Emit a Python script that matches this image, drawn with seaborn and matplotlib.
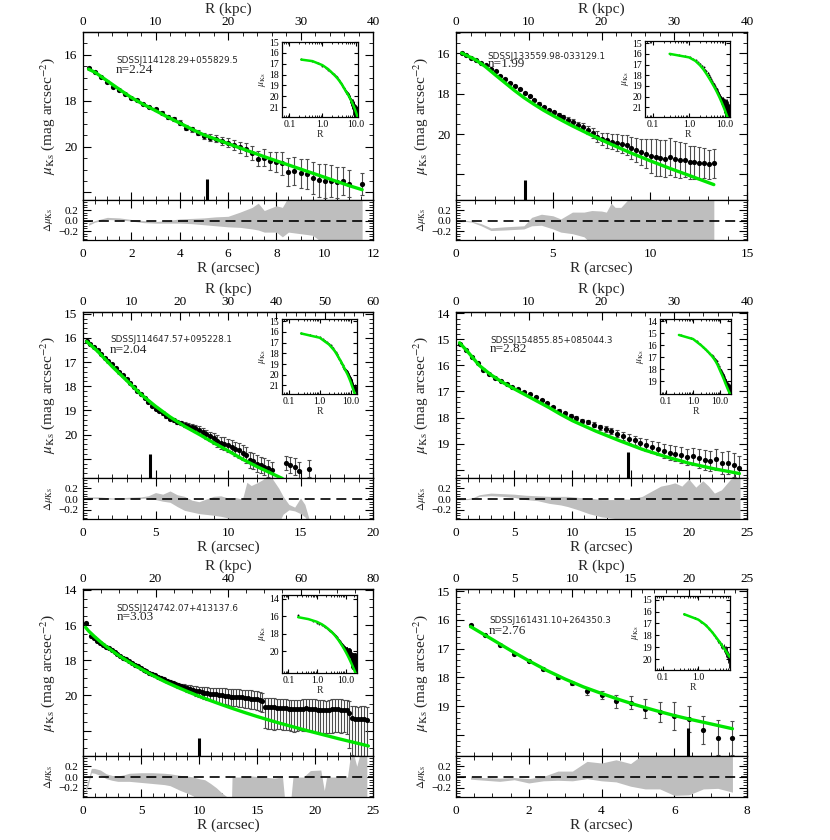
import matplotlib
matplotlib.use("Agg")
import matplotlib.pyplot as plt
from matplotlib.ticker import (AutoMinorLocator, FixedLocator, FixedFormatter,
                               MultipleLocator, LogLocator, NullFormatter)
import seaborn as sns

# ---------------- data ----------------
# galaxy names and Sersic indices
names = ["SDSSJ114128.29+055829.5", "SDSSJ133559.98-033129.1",
         "SDSSJ114647.57+095228.1", "SDSSJ154855.85+085044.3",
         "SDSSJ124742.07+413137.6", "SDSSJ161431.10+264350.3"]
sersic_n = [2.24, 1.99, 2.04, 2.82, 3.03, 2.76]

# axis ranges (arcsec on the bottom, kpc on top, magnitudes on y)
arc_max = [12, 15, 20, 25, 25, 8]
kpc_max = [40, 40, 60, 40, 80, 25]
arc_step = [2, 5, 5, 5, 5, 2]
kpc_step = [10, 10, 10, 10, 20, 5]
mu_lim = [(22.33, 15.0), (23.26, 14.96), (21.8, 14.93), (20.32, 13.95), (23.45, 13.95), (20.74, 14.92)]
mu_ticks = [[16, 18, 20, 22], [16, 18, 20, 22], [15, 16, 17, 18, 19, 20, 21],
            [14, 15, 16, 17, 18, 19, 20], [14, 16, 18, 20, 22], [15, 16, 17, 18, 19, 20]]
inset_lim = [(21.9, 15.0), (21.9, 14.8), (21.8, 14.8), (20.05, 13.8), (22.5, 13.6), (20.9, 14.7)]
inset_ticks = [[15, 16, 17, 18, 19, 20, 21], [15, 16, 17, 18, 19, 20, 21], [15, 16, 17, 18, 19, 20, 21],
               [14, 15, 16, 17, 18, 19], [14, 16, 18, 20], [15, 16, 17, 18, 19, 20]]

# the short thick vertical marker in each panel
bar_r = [5.13, 3.55, 4.64, 14.79, 9.97, 6.39]
bar_top = [21.4, 22.28, 20.8, 19.31, 22.45, 19.77]

# panel 1
r1 = [0.23, 0.5, 0.75, 1.0, 1.25, 1.5, 1.75, 2.0, 2.25, 2.5, 2.75, 3.0, 3.25, 3.5, 3.75, 4.0,
      4.25, 4.5, 4.75, 5.0, 5.25, 5.5, 5.75, 6.0, 6.25, 6.5, 6.75, 7.0, 7.25, 7.5, 7.75, 8.0,
      8.25, 8.5, 8.75, 9.0, 9.25, 9.5, 9.75, 10.0, 10.25, 10.5, 10.75, 11.0, 11.55]
mu1 = [16.55, 16.73, 16.95, 17.18, 17.38, 17.53, 17.69, 17.88, 17.98, 18.14, 18.26, 18.37, 18.52,
       18.71, 18.81, 18.95, 19.17, 19.25, 19.39, 19.54, 19.61, 19.65, 19.76, 19.83, 19.93, 20.02,
       20.12, 20.29, 20.53, 20.48, 20.63, 20.67, 20.73, 21.11, 21.07, 21.17, 21.21, 21.36, 21.46,
       21.50, 21.52, 21.55, 21.50, 21.62, 21.65]
err1 = [0.02, 0.02, 0.02, 0.02, 0.03, 0.03, 0.03, 0.04, 0.04, 0.05, 0.05, 0.06, 0.06, 0.07, 0.08,
        0.09, 0.1, 0.11, 0.12, 0.14, 0.15, 0.17, 0.19, 0.2, 0.22, 0.24, 0.27, 0.3, 0.33, 0.36,
        0.4, 0.45, 0.5, 0.62, 0.6, 0.62, 0.65, 0.7, 0.72, 0.75, 0.7, 0.68, 0.62, 0.6, 0.48]
mod_r1 = [0.23, 0.5, 1.0, 1.5, 2.0, 2.5, 3.0, 3.5, 4.0, 4.5, 5.0, 5.5, 6.0, 6.5, 7.0, 7.5, 8.0,
          8.5, 9.0, 9.5, 10.0, 10.5, 11.0, 11.55]
mod_mu1 = [16.62, 16.76, 17.13, 17.5, 17.86, 18.16, 18.43, 18.71, 18.97, 19.24, 19.49, 19.68,
           19.87, 20.06, 20.25, 20.44, 20.62, 20.8, 20.98, 21.16, 21.34, 21.52, 21.7, 21.88]
res_r1 = [0.23, 0.5, 1.0, 1.5, 2.0, 2.5, 3.0, 3.5, 4.0, 4.5, 5.0, 5.5, 6.0, 6.5, 7.0, 7.25, 7.5,
          8.0, 8.25, 8.5, 9.0, 9.5, 10.0, 10.5, 11.0, 11.55]
res_lo1 = [-0.09, -0.03, 0.02, 0.01, -0.01, -0.04, -0.05, -0.05, -0.05, -0.06, -0.08, -0.1, -0.12,
           -0.13, -0.16, -0.18, -0.22, -0.22, -0.31, -0.22, -0.25, -0.28, -0.45, -0.45, -0.45, -0.45]
res_hi1 = [-0.05, 0.0, 0.06, 0.05, 0.02, 0.0, -0.02, 0.0, 0.03, 0.04, 0.05, 0.07, 0.08, 0.16,
           0.25, 0.33, 0.19, 0.28, 0.25, 0.45, 0.45, 0.45, 0.45, 0.45, 0.45, 0.45]

# panel 2
r2 = [0.29, 0.54, 0.79, 1.04, 1.29, 1.54, 1.79, 2.04, 2.29, 2.54, 2.79, 3.04, 3.29, 3.54, 3.79,
      4.04, 4.29, 4.54, 4.79, 5.04, 5.29, 5.54, 5.79, 6.04, 6.29, 6.54, 6.79, 7.04, 7.29, 7.54,
      7.79, 8.04, 8.29, 8.54, 8.79, 9.04, 9.29, 9.54, 9.79, 10.04, 10.29, 10.54, 10.79, 11.04,
      11.29, 11.54, 11.79, 12.04, 12.29, 12.54, 12.79, 13.04, 13.29]
mu2 = [16.0, 16.12, 16.23, 16.33, 16.5, 16.61, 16.78, 16.91, 17.11, 17.27, 17.47, 17.64, 17.77,
       17.97, 18.13, 18.31, 18.51, 18.68, 18.83, 18.93, 19.04, 19.17, 19.29, 19.42, 19.55, 19.65,
       19.79, 19.95, 20.13, 20.25, 20.32, 20.38, 20.42, 20.5, 20.56, 20.71, 20.79, 20.88, 20.97,
       21.1, 21.16, 21.19, 21.21, 21.12, 21.24, 21.27, 21.29, 21.4, 21.4, 21.42, 21.44, 21.49, 21.45]
err2 = [0.02, 0.02, 0.02, 0.02, 0.02, 0.03, 0.03, 0.03, 0.03, 0.04, 0.04, 0.04, 0.05, 0.05, 0.06,
        0.06, 0.07, 0.08, 0.08, 0.09, 0.1, 0.11, 0.12, 0.14, 0.16, 0.18, 0.2, 0.23, 0.27, 0.31,
        0.35, 0.38, 0.41, 0.45, 0.5, 0.54, 0.6, 0.65, 0.72, 0.85, 0.9, 0.9, 0.92, 0.9, 0.9, 0.88,
        0.85, 0.82, 0.8, 0.78, 0.75, 0.72, 0.7]
mod_r2 = [0.29, 1.0, 1.5, 2.0, 2.5, 3.0, 3.5, 4.0, 4.5, 5.0, 5.5, 6.0, 7.0, 8.0, 9.0, 10.0, 11.0,
          12.0, 13.29]
mod_mu2 = [16.0, 16.33, 16.66, 17.06, 17.45, 17.84, 18.2, 18.52, 18.82, 19.09, 19.35, 19.6, 20.07,
           20.51, 20.93, 21.32, 21.69, 22.04, 22.5]
res_r2 = [0.29, 0.8, 1.3, 1.8, 2.5, 3.0, 3.5, 3.9, 4.4, 5.0, 5.4, 6.0, 6.6, 7.0, 7.5, 7.75, 8.0,
          8.2, 8.5, 8.8, 9.0, 13.29]
res_lo2 = [-0.01, -0.03, -0.1, -0.19, -0.18, -0.17, -0.16, -0.1, -0.09, -0.16, -0.22, -0.25, -0.31,
           -0.45, -0.45, -0.45, -0.45, -0.45, -0.45, -0.45, -0.45, -0.45]
res_hi2 = [0.01, -0.01, -0.06, -0.14, -0.12, -0.11, -0.1, 0.06, 0.12, 0.09, 0.03, 0.16, 0.16, 0.19,
           0.18, 0.16, 0.33, 0.25, 0.25, 0.37, 0.45, 0.45]

# panel 3
r3 = [0.25, 0.5, 0.75, 1.0, 1.25, 1.5, 1.75, 2.0, 2.25, 2.5, 2.75, 3.0, 3.25, 3.5, 3.75, 4.0,
      4.25, 4.5, 4.75, 5.0, 5.25, 5.5, 5.75, 6.0, 6.25, 6.5, 6.75, 7.0, 7.25, 7.5, 7.75, 8.0,
      8.25, 8.5, 8.75, 9.0, 9.25, 9.5, 9.75, 10.0, 10.25, 10.5, 10.75, 11.0, 11.25, 11.5, 11.75,
      12.0, 12.25, 12.5, 12.75, 13.0, 14.0, 14.3, 14.6, 14.9, 15.6]
mu3 = [16.14, 16.25, 16.38, 16.52, 16.67, 16.82, 16.96, 17.1, 17.25, 17.4, 17.55, 17.7, 17.87,
       18.03, 18.19, 18.34, 18.5, 18.65, 18.8, 18.93, 19.03, 19.13, 19.24, 19.34, 19.42, 19.48,
       19.54, 19.59, 19.63, 19.68, 19.74, 19.82, 19.9, 19.99, 20.08, 20.16, 20.26, 20.34, 20.38,
       20.44, 20.5, 20.58, 20.66, 20.76, 20.85, 21.06, 21.1, 21.2, 21.26, 21.33, 21.4, 21.47,
       21.17, 21.26, 21.33, 21.5, 21.41]
err3 = [0.02, 0.02, 0.02, 0.02, 0.02, 0.02, 0.02, 0.02, 0.02, 0.02, 0.02, 0.03, 0.03, 0.03, 0.03,
        0.04, 0.04, 0.04, 0.05, 0.05, 0.05, 0.06, 0.06, 0.07, 0.07, 0.08, 0.08, 0.09, 0.1, 0.12,
        0.14, 0.16, 0.17, 0.19, 0.2, 0.22, 0.24, 0.25, 0.26, 0.27, 0.28, 0.29, 0.3, 0.31, 0.32,
        0.33, 0.34, 0.34, 0.34, 0.35, 0.35, 0.35, 0.3, 0.32, 0.35, 0.36, 0.34]
mod_r3 = [0.25, 1.0, 2.0, 3.0, 4.0, 5.0, 6.0, 7.0, 8.0, 9.0, 10.0, 11.0, 12.0, 13.0, 13.75]
mod_mu3 = [16.15, 16.55, 17.18, 17.76, 18.34, 18.83, 19.27, 19.66, 19.99, 20.34, 20.67, 21.02,
           21.33, 21.61, 21.82]
res_r3 = [0.25, 1.0, 2.0, 3.0, 4.0, 4.5, 5.0, 5.5, 6.0, 6.5, 7.0, 7.5, 8.0, 9.0, 9.5, 10.0, 10.5,
          11.0, 11.3, 11.6, 12.0, 12.4, 12.7, 13.0, 13.5, 13.8, 14.2, 14.6, 15.0, 15.3, 15.6]
res_lo3 = [0.02, 0.01, 0.0, 0.0, 0.01, 0.02, -0.01, -0.04, -0.06, -0.14, -0.21, -0.24, -0.27, -0.3,
           -0.32, -0.35, -0.45, -0.45, -0.45, -0.45, -0.45, -0.45, -0.45, -0.45, -0.45, -0.28,
           -0.2, -0.22, -0.27, -0.33, -0.45]
res_hi3 = [0.04, 0.04, 0.02, 0.03, 0.04, 0.06, 0.12, 0.09, 0.15, 0.08, 0.05, -0.02, -0.05, 0.05,
           0.06, 0.02, 0.03, 0.0, 0.31, 0.25, 0.3, 0.36, 0.45, 0.4, 0.2, 0.05, -0.1, -0.15, 0.02,
           -0.1, -0.38]

# panel 4
r4 = [0.35, 0.85, 1.35, 1.85, 2.35, 2.85, 3.35, 3.85, 4.35, 4.85, 5.35, 5.85, 6.35, 6.85, 7.35,
      7.85, 8.35, 8.85, 9.35, 9.85, 10.35, 10.85, 11.35, 11.85, 12.35, 12.85, 13.35, 13.85, 14.35,
      14.85, 15.35, 15.85, 16.35, 16.85, 17.35, 17.85, 18.35, 18.85, 19.35, 19.85, 20.35, 20.85,
      21.35, 21.85, 22.35, 22.85, 23.35, 23.85, 24.35]
mu4 = [15.16, 15.41, 15.66, 15.91, 16.16, 16.32, 16.48, 16.6, 16.71, 16.83, 16.92, 17.01, 17.11,
       17.21, 17.32, 17.46, 17.59, 17.74, 17.84, 17.93, 18.02, 18.12, 18.18, 18.27, 18.37, 18.43,
       18.52, 18.62, 18.72, 18.81, 18.88, 18.98, 19.06, 19.13, 19.19, 19.28, 19.35, 19.38, 19.44,
       19.51, 19.48, 19.57, 19.63, 19.66, 19.61, 19.73, 19.73, 19.82, 19.95]
err4 = [0.02, 0.02, 0.02, 0.02, 0.02, 0.02, 0.02, 0.02, 0.02, 0.02, 0.02, 0.03, 0.03, 0.03, 0.04,
        0.04, 0.05, 0.05, 0.06, 0.06, 0.07, 0.08, 0.08, 0.09, 0.1, 0.11, 0.12, 0.14, 0.16, 0.18,
        0.19, 0.2, 0.22, 0.23, 0.25, 0.26, 0.28, 0.29, 0.31, 0.32, 0.33, 0.35, 0.37, 0.39, 0.4,
        0.42, 0.44, 0.46, 0.47]
mod_r4 = [0.3, 1.0, 2.0, 3.0, 4.0, 5.0, 6.0, 7.0, 8.0, 9.0, 10.0, 12.0, 14.0, 16.0, 18.0, 20.0,
          22.0, 24.35]
mod_mu4 = [15.13, 15.47, 16.0, 16.36, 16.65, 16.9, 17.14, 17.38, 17.62, 17.88, 18.12, 18.52, 18.88,
           19.22, 19.5, 19.75, 19.95, 20.15]
res_r4 = [0.35, 1.0, 1.5, 2.0, 3.0, 4.0, 5.0, 6.0, 7.0, 8.0, 9.0, 9.6, 10.5, 11.4, 12.5, 13.6,
          14.5, 15.0, 16.0, 16.5, 17.6, 18.3, 18.8, 19.4, 20.0, 20.6, 21.2, 21.7, 22.2, 22.8, 23.6,
          24.4]
res_lo4 = [-0.01, -0.01, 0.0, 0.05, 0.06, 0.05, 0.03, -0.01, -0.03, -0.08, -0.11, -0.14, -0.2,
           -0.27, -0.33, -0.36, -0.45, -0.45, -0.45, -0.45, -0.45, -0.45, -0.45, -0.45, -0.45,
           -0.45, -0.45, -0.45, -0.45, -0.45, -0.45, -0.45]
res_hi4 = [0.01, 0.01, 0.03, 0.08, 0.11, 0.1, 0.09, 0.07, 0.06, 0.05, 0.05, 0.05, 0.03, 0.02,
           -0.01, -0.01, 0.0, 0.0, 0.05, 0.11, 0.24, 0.27, 0.3, 0.24, 0.37, 0.22, 0.34, 0.24, 0.11,
           0.17, 0.37, 0.4]

# panel 5
r5 = [0.22, 0.72, 0.97, 1.22, 1.47, 1.72, 1.97, 2.22, 2.47, 2.72, 2.97, 3.22, 3.47, 3.72, 3.97,
      4.22, 4.47, 4.72, 4.97, 5.22, 5.47, 5.72, 5.97, 6.22, 6.47, 6.72, 6.97, 7.22, 7.47, 7.72,
      7.97, 8.22, 8.47, 8.72, 8.97, 9.22, 9.47, 9.72, 9.97, 10.22, 10.47, 10.72, 10.97, 11.22,
      11.47, 11.72, 11.97, 12.22, 12.47, 12.72, 12.97, 13.22, 13.47, 13.72, 13.97, 14.22, 14.47,
      14.72, 14.97, 15.22, 15.47, 15.72, 15.97, 16.22, 16.47, 16.72, 16.97, 17.22, 17.47, 17.72,
      17.97, 18.22, 18.47, 18.72, 18.97, 19.22, 19.47, 19.72, 19.97, 20.22, 20.47, 20.72, 20.97,
      21.22, 21.47, 21.72, 21.97, 22.22, 22.47, 22.72, 22.97, 23.22, 23.47, 23.72, 23.97, 24.22,
      24.47]
mu5 = [15.9, 16.60, 16.75, 16.88, 17.02, 17.14, 17.23, 17.33, 17.44, 17.55, 17.66,
       17.76, 17.86, 17.96, 18.06, 18.16, 18.26, 18.35, 18.44, 18.53, 18.62, 18.71, 18.80,
       18.87, 18.95, 19.02, 19.09, 19.16, 19.23, 19.30, 19.36,
       19.42, 19.48, 19.53, 19.58, 19.63, 19.68, 19.73, 19.78,
       19.82, 19.85, 19.88, 19.90, 19.92, 19.95, 19.97, 20.00, 20.02, 20.05, 20.07, 20.08,
       20.09, 20.10, 20.11, 20.13, 20.15, 20.18, 20.20, 20.23, 20.27, 20.33,
       20.64, 20.66, 20.67, 20.69, 20.70, 20.70, 20.72, 20.74, 20.76, 20.78, 20.79, 20.79, 20.77,
       20.75, 20.74, 20.75, 20.77, 20.79, 20.82, 20.84, 20.85, 20.85, 20.82, 20.80, 20.79, 20.80,
       20.81, 20.81, 20.85,
       21.02, 21.30, 21.35, 21.34, 21.32, 21.34, 21.38]
err5_up = [0.02, 0.02, 0.02, 0.02, 0.02, 0.02, 0.02, 0.02, 0.02, 0.02, 0.02,
           0.02, 0.03, 0.03, 0.03, 0.03, 0.04, 0.04, 0.04, 0.05, 0.05, 0.05, 0.06,
           0.06, 0.07, 0.07, 0.08, 0.09, 0.1, 0.11, 0.12,
           0.13, 0.15, 0.17, 0.19, 0.21, 0.23, 0.25, 0.27,
           0.29, 0.31, 0.33, 0.34, 0.36, 0.37, 0.38, 0.4, 0.41, 0.42, 0.43, 0.44,
           0.44, 0.45, 0.44, 0.46, 0.45, 0.46, 0.45, 0.47, 0.46, 0.47,
           0.5, 0.52, 0.5, 0.53, 0.51, 0.5, 0.54, 0.52, 0.5, 0.53, 0.55, 0.52, 0.5, 0.54, 0.56,
           0.53, 0.55, 0.57, 0.54, 0.56, 0.58, 0.55, 0.57, 0.59, 0.56, 0.58, 0.6, 0.57, 0.6,
           0.68, 0.7, 0.72, 0.7, 0.71, 0.73, 0.72]
err5_dn = [0.02, 0.02, 0.02, 0.02, 0.02, 0.02, 0.02, 0.02, 0.02, 0.02, 0.02,
           0.02, 0.03, 0.03, 0.03, 0.03, 0.04, 0.04, 0.04, 0.05, 0.05, 0.05, 0.06,
           0.07, 0.07, 0.08, 0.09, 0.1, 0.11, 0.12, 0.13,
           0.15, 0.17, 0.19, 0.21, 0.23, 0.26, 0.28, 0.3,
           0.33, 0.35, 0.37, 0.39, 0.41, 0.43, 0.45, 0.47, 0.49, 0.5, 0.52, 0.53,
           0.54, 0.55, 0.55, 0.57, 0.56, 0.58, 0.57, 0.59, 0.6, 0.62,
           1.2, 1.24, 1.22, 1.26, 1.23, 1.21, 1.27, 1.25, 1.22, 1.26, 1.28, 1.24, 1.22, 1.27, 1.3,
           1.26, 1.28, 1.31, 1.27, 1.3, 1.32, 1.28, 1.3, 1.33, 1.29, 1.31, 1.34, 1.3, 1.35,
           2.0, 2.1, 2.2, 2.1, 2.15, 2.2, 2.2]
mod_r5 = [0.22, 0.5, 1.0, 1.5, 2.0, 3.0, 4.0, 5.0, 6.0, 7.0, 8.0, 9.0, 10.0, 11.0, 12.0, 13.0,
          14.0, 15.0, 16.0, 17.0, 18.0, 19.0, 20.0, 21.0, 22.0, 23.0, 24.0, 24.6]
mod_mu5 = [16.13, 16.35, 16.66, 16.95, 17.22, 17.7, 18.12, 18.5, 18.86, 19.2, 19.5, 19.78, 20.05,
           20.3, 20.54, 20.77, 20.99, 21.2, 21.4, 21.59, 21.77, 21.95, 22.12, 22.29, 22.46, 22.62,
           22.78, 22.88]
res_r5 = [0.22, 0.45, 0.72, 1.0, 1.5, 2.0, 2.5, 3.0, 3.5, 4.0, 5.0, 6.0, 7.0, 7.5, 8.4, 9.0, 9.5,
          10.0, 10.5, 11.0, 11.5, 12.0, 12.5, 12.8, 12.85, 13.5, 14.5, 15.5, 16.5, 17.2, 17.4,
          17.9, 18.1, 19.0, 19.6, 20.5, 20.8, 21.0, 22.0, 22.8, 23.0, 23.3, 23.6, 23.9, 24.47]
res_lo5 = [-0.28, -0.15, 0.08, 0.07, 0.03, -0.03, -0.06, -0.08, -0.08, -0.08, -0.1, -0.12, -0.14,
           -0.16, -0.25, -0.3, -0.35, -0.45, -0.45, -0.45, -0.45, -0.45, -0.45, -0.45, -0.45,
           -0.45, -0.45, -0.45, -0.45, -0.45, -0.45, -0.45, -0.45, -0.45, -0.45, -0.45, -0.45,
           -0.45, -0.45, -0.45, -0.45, -0.45, -0.45, -0.45, -0.45]
res_hi5 = [-0.2, -0.05, 0.16, 0.16, 0.13, 0.06, 0.03, 0.02, 0.04, 0.07, 0.08, 0.08, 0.07, 0.06,
           0.03, 0.02, 0.0, -0.03, -0.05, -0.12, -0.2, -0.3, -0.38, -0.45, 0.0, 0.0, 0.02, 0.0,
           -0.02, 0.0, -0.45, -0.45, 0.0, 0.0, 0.12, 0.13, -0.25, 0.0, 0.0, 0.0, 0.32, 0.45, 0.2,
           0.45, 0.45]

# panel 6
r6 = [0.4, 0.8, 1.2, 1.6, 2.0, 2.4, 2.8, 3.2, 3.6, 4.0, 4.4, 4.8, 5.2, 5.6, 6.0, 6.4, 6.8, 7.2, 7.6]
mu6 = [16.18, 16.52, 16.86, 17.17, 17.43, 17.71, 18.0, 18.2, 18.49, 18.63, 18.83, 18.88, 19.09,
       19.2, 19.34, 19.45, 19.83, 20.1, 20.12]
err6 = [0.02, 0.02, 0.02, 0.03, 0.03, 0.04, 0.04, 0.05, 0.11, 0.14, 0.23, 0.23, 0.34, 0.34, 0.48,
        0.45, 0.5, 0.62, 0.6]
mod_r6 = [0.4, 1.0, 1.5, 2.0, 2.5, 3.0, 3.5, 4.0, 4.5, 5.0, 5.5, 6.0, 6.5, 7.0, 7.6]
mod_mu6 = [16.23, 16.68, 17.06, 17.42, 17.76, 18.06, 18.33, 18.56, 18.78, 18.98, 19.16, 19.33,
           19.48, 19.62, 19.79]
res_r6 = [0.4, 0.8, 1.2, 1.6, 2.0, 2.4, 2.8, 3.2, 3.6, 4.0, 4.4, 4.8, 5.2, 5.6, 6.0, 6.4, 6.8, 7.2, 7.6]
res_lo6 = [-0.04, -0.06, -0.08, -0.05, -0.11, -0.07, -0.06, -0.07, -0.03, -0.07, -0.09, -0.17,
           -0.22, -0.22, -0.34, -0.33, -0.22, -0.21, -0.28]
res_hi6 = [0.0, -0.01, -0.02, -0.01, -0.03, 0.01, 0.11, 0.11, 0.29, 0.26, 0.32, 0.25, 0.45, 0.45,
           0.45, 0.45, 0.45, 0.45, 0.45]

# collect the panels in reading order (left to right, top to bottom)
panels = [
    dict(r=r1, mu=mu1, eu=err1, ed=err1, mr=mod_r1, mm=mod_mu1, rr=res_r1, lo=res_lo1, hi=res_hi1),
    dict(r=r2, mu=mu2, eu=err2, ed=err2, mr=mod_r2, mm=mod_mu2, rr=res_r2, lo=res_lo2, hi=res_hi2),
    dict(r=r3, mu=mu3, eu=err3, ed=err3, mr=mod_r3, mm=mod_mu3, rr=res_r3, lo=res_lo3, hi=res_hi3),
    dict(r=r4, mu=mu4, eu=err4, ed=err4, mr=mod_r4, mm=mod_mu4, rr=res_r4, lo=res_lo4, hi=res_hi4),
    dict(r=r5, mu=mu5, eu=err5_up, ed=err5_dn, mr=mod_r5, mm=mod_mu5, rr=res_r5, lo=res_lo5, hi=res_hi5),
    dict(r=r6, mu=mu6, eu=err6, ed=err6, mr=mod_r6, mm=mod_mu6, rr=res_r6, lo=res_lo6, hi=res_hi6),
]

# ---------------- layout (pixels from top-left of the 830x840 canvas) ----------------
W, H = 830, 840
cols = [(83, 373), (456, 747)]
rows = [(32, 200, 240), (312, 478, 519), (589, 756, 797)]
inset_box = [(282, 42, 358, 117), (645, 41, 730, 117), (282, 319, 357, 394),
             (660, 319, 731, 394), (282, 595, 357, 673), (655, 596, 730, 670)]
name_pos = [(0.114, 0.83, 0.774), (0.109, 0.857, 0.81), (0.093, 0.836, 0.77),
            (0.117, 0.83, 0.775), (0.116, 0.884, 0.83), (0.113, 0.81, 0.75)]

GREEN = "#00e600"
GREY = "#bebebe"

sns.set_theme(style="ticks")
plt.rcParams["font.family"] = ["Liberation Serif", "DejaVu Serif"]
plt.rcParams["mathtext.fontset"] = "stix"
plt.rcParams["axes.linewidth"] = 0.9
plt.rcParams["axes.edgecolor"] = "black"


def frame(x0, y0, x1, y1):
    # pixel box -> figure fraction [left, bottom, width, height]
    return [x0 / W, 1 - y1 / H, (x1 - x0) / W, (y1 - y0) / H]


def inward(ax, size=9.5, major=6, minor=3):
    ax.tick_params(which="both", direction="in", colors="black", labelcolor="black")
    ax.tick_params(which="major", length=major, width=0.8, labelsize=size)
    ax.tick_params(which="minor", length=minor, width=0.6)


fig = plt.figure(figsize=(W / 100, H / 100), dpi=100)

for i, p in enumerate(panels):
    c0, c1 = cols[i % 2]
    t, m, b = rows[i // 2]
    ax = fig.add_axes(frame(c0, t, c1, m))
    rax = fig.add_axes(frame(c0, m, c1, b))
    iax = fig.add_axes(frame(*inset_box[i]))

    # ---- main profile ----
    ax.errorbar(p["r"], p["mu"], yerr=[p["eu"], p["ed"]], fmt="none", ecolor="0.3",
                elinewidth=0.8, capsize=1.6, capthick=0.8, zorder=2)
    sns.scatterplot(x=p["r"], y=p["mu"], ax=ax, color="black", s=14, linewidth=0,
                    zorder=3, legend=False)
    sns.lineplot(x=p["mr"], y=p["mm"], ax=ax, color=GREEN, linewidth=2.4,
                 estimator=None, sort=False, zorder=4)
    ax.vlines(bar_r[i], bar_top[i], mu_lim[i][0], color="black", linewidth=2.2, zorder=5)
    ax.set_xlim(0, arc_max[i])
    ax.set_ylim(*mu_lim[i])
    inward(ax)
    ax.xaxis.set_major_locator(MultipleLocator(arc_step[i]))
    ax.xaxis.set_minor_locator(AutoMinorLocator())
    ax.yaxis.set_major_locator(FixedLocator(mu_ticks[i]))
    ax.yaxis.set_major_formatter(FixedFormatter([str(v) for v in mu_ticks[i][:-1]] + [""]))
    ax.yaxis.set_minor_locator(AutoMinorLocator(4 if mu_ticks[i][1] - mu_ticks[i][0] == 2 else 5))
    ax.tick_params(which="both", top=False, bottom=True, left=True, right=True,
                   labelbottom=False, pad=4)
    ax.set_xlabel("")
    ax.set_ylabel(r"$\mu_{\rm Ks}$ (mag arcsec$^{-2}$)", fontsize=11, labelpad=5)

    # top axis in kpc
    f = kpc_max[i] / arc_max[i]
    sec = ax.secondary_xaxis("top", functions=(lambda x, f=f: x * f, lambda x, f=f: x / f))
    sec.xaxis.set_major_locator(MultipleLocator(kpc_step[i]))
    sec.xaxis.set_minor_locator(AutoMinorLocator())
    inward(sec)
    sec.tick_params(pad=3)
    sec.set_xlabel("R (kpc)", fontsize=11, labelpad=2)

    nx, ny, ny2 = name_pos[i]
    ax.text(nx, ny, names[i], transform=ax.transAxes, fontsize=6.3, family="DejaVu Sans",
            va="center", ha="left")
    ax.text(nx, ny2, f"n={sersic_n[i]:.2f}", transform=ax.transAxes, fontsize=9.5,
            va="center", ha="left")

    # ---- residuals ----
    rax.fill_between(p["rr"], p["lo"], p["hi"], color=GREY, linewidth=0, zorder=1)
    rax.axhline(0, color="black", linewidth=1.2, dashes=(6, 3.5), zorder=2)
    rax.set_xlim(0, arc_max[i])
    rax.set_ylim(-0.37, 0.39)
    inward(rax)
    rax.xaxis.set_major_locator(MultipleLocator(arc_step[i]))
    rax.xaxis.set_minor_locator(AutoMinorLocator())
    rax.yaxis.set_major_locator(FixedLocator([-0.2, 0.0, 0.2]))
    rax.yaxis.set_major_formatter(FixedFormatter(["\u22120.2", "0.0", "0.2"]))
    rax.yaxis.set_minor_locator(MultipleLocator(0.05))
    rax.tick_params(which="both", top=True, bottom=True, left=True, right=True)
    rax.tick_params(axis="y", labelsize=8, pad=3)
    rax.tick_params(axis="x", pad=6)
    rax.set_xlabel("R (arcsec)", fontsize=11, labelpad=1)
    rax.set_ylabel(r"$\Delta\mu_{\rm Ks}$", fontsize=8, labelpad=3)

    # ---- inset on a log radius axis ----
    iax.set_facecolor("white")
    iax.set_xscale("log")
    iax.errorbar(p["r"], p["mu"], yerr=[p["eu"], p["ed"]], fmt="none", ecolor="black",
                 elinewidth=0.6, capsize=0, zorder=2)
    sns.scatterplot(x=p["r"], y=p["mu"], ax=iax, color="black", s=2, linewidth=0,
                    zorder=3, legend=False)
    sns.lineplot(x=p["mr"], y=p["mm"], ax=iax, color=GREEN, linewidth=1.8,
                 estimator=None, sort=False, zorder=4)
    iax.set_xlim(0.06, max(p["r"]) * 1.03)
    iax.set_ylim(*inset_lim[i])
    inward(iax, size=7, major=3, minor=1.5)
    iax.xaxis.set_major_locator(FixedLocator([0.1, 1.0, 10.0]))
    iax.xaxis.set_major_formatter(FixedFormatter(["0.1", "1.0", "10.0"]))
    iax.xaxis.set_minor_locator(LogLocator(subs=range(2, 10)))
    iax.xaxis.set_minor_formatter(NullFormatter())
    iax.yaxis.set_major_locator(FixedLocator(inset_ticks[i]))
    iax.yaxis.set_major_formatter(FixedFormatter([str(v) for v in inset_ticks[i]]))
    iax.tick_params(which="both", top=True, right=True, pad=2)
    iax.set_xlabel("R", fontsize=7, labelpad=1)
    iax.set_ylabel(r"$\mu_{\rm Ks}$", fontsize=7, labelpad=1)

fig.savefig("out.png", dpi=100)
